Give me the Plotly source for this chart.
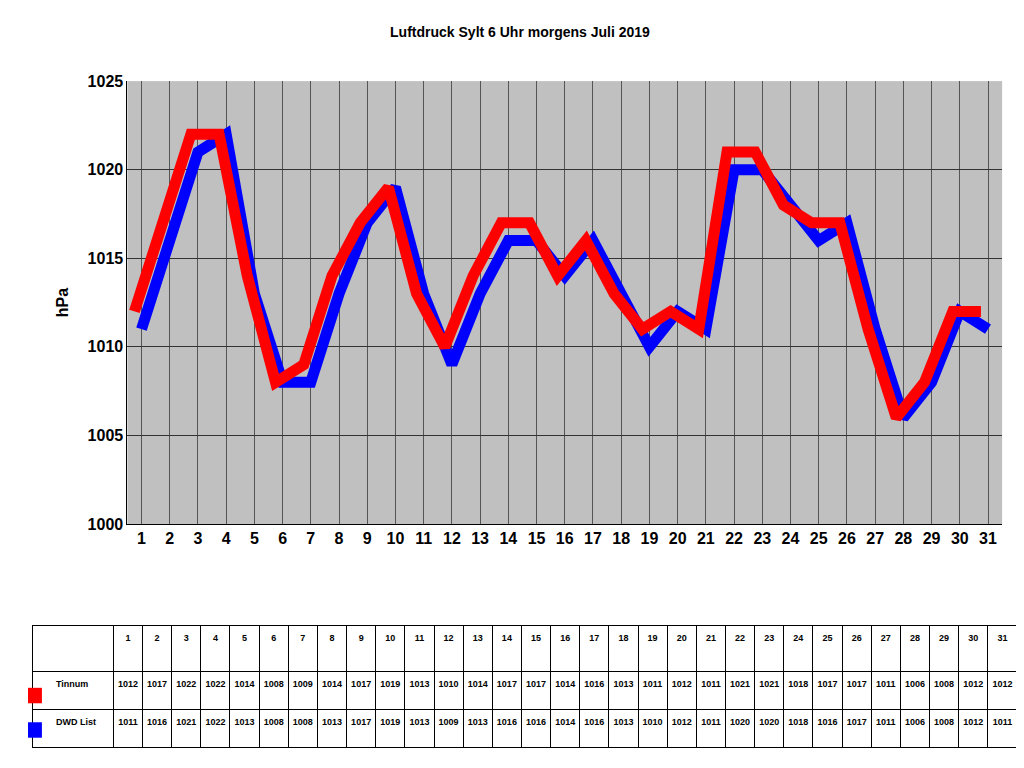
import plotly.graph_objects as go

days = list(range(1, 32))
tinnum = [1012, 1017, 1022, 1022, 1014, 1008, 1009, 1014, 1017, 1019, 1013, 1010, 1014, 1017, 1017, 1014,
          1016, 1013, 1011, 1012, 1011, 1021, 1021, 1018, 1017, 1017, 1011, 1006, 1008, 1012, 1012]
dwd_list = [1011, 1016, 1021, 1022, 1013, 1008, 1008, 1013, 1017, 1019, 1013, 1009, 1013, 1016, 1016, 1014,
            1016, 1013, 1010, 1012, 1011, 1020, 1020, 1018, 1016, 1017, 1011, 1006, 1008, 1012, 1011]

fig = go.Figure()
fig.add_trace(go.Scatter(x=days, y=dwd_list, mode="lines", line=dict(color="#0000ff", width=11),
                         name="DWD List", showlegend=False))
# red series on a shifted overlay axis (drawn on top, offset left like the 3D depth)
fig.add_trace(go.Scatter(x=days, y=tinnum, mode="lines", line=dict(color="#ff0000", width=11),
                         xaxis="x2", name="Tinnum", showlegend=False))

fig.add_trace(go.Table(
    domain=dict(x=[0.005, 0.995], y=[0.011, 0.186]),
    columnwidth=[80] + [29] * 31,
    header=dict(values=[""] + [f"<b>{d}</b>" for d in days], fill_color="white",
                line_color="black", font=dict(size=9, color="black", family="Arial"), height=46),
    cells=dict(values=[["<br><b>      Tinnum</b>", "<br><b>      DWD List</b>"]] +
                      [[f"<br><b>{t}</b>", f"<br><b>{d}</b>"] for t, d in zip(tinnum, dwd_list)],
               fill_color="white", line_color="black", font=dict(size=9, color="black", family="Arial"),
               height=38, align=["left"] + ["center"] * 31),
))

fig.update_layout(
    width=1024, height=768,
    margin=dict(l=20, r=10, t=45, b=20),
    paper_bgcolor="white", plot_bgcolor="#c0c0c0",
    title=dict(text="<b>Luftdruck Sylt 6 Uhr morgens Juli 2019</b>", x=0.5, y=0.975,
               font=dict(size=14, family="Arial", color="black")),
    font=dict(family="Arial", color="black"),
    xaxis=dict(domain=[0.1, 0.98], range=[0.5, 31.5], tickmode="array", tickvals=days,
               ticktext=[f"<b>{d}</b>" for d in days],
               tickfont=dict(size=16), showgrid=True, gridcolor="#555555", showline=True,
               linecolor="black", anchor="y"),
    xaxis2=dict(domain=[0.1, 0.98], range=[0.75, 31.75], overlaying="x", visible=False, anchor="y"),
    yaxis=dict(domain=[0.33, 0.96], range=[1000, 1025], dtick=5, tickfont=dict(size=16),
               title=dict(text="<b>hPa</b>", font=dict(size=16)), tickprefix="<b>", ticksuffix="</b>",
               showgrid=True, gridcolor="#333333", showline=True, linecolor="black"),
    shapes=[
        dict(type="rect", xref="paper", yref="paper", x0=0.0, x1=0.014, y0=0.075, y1=0.097,
             fillcolor="#ff0000", line_width=0),
        dict(type="rect", xref="paper", yref="paper", x0=0.0, x1=0.014, y0=0.026, y1=0.048,
             fillcolor="#0000ff", line_width=0),
    ],
)

fig.write_html("out.html")
